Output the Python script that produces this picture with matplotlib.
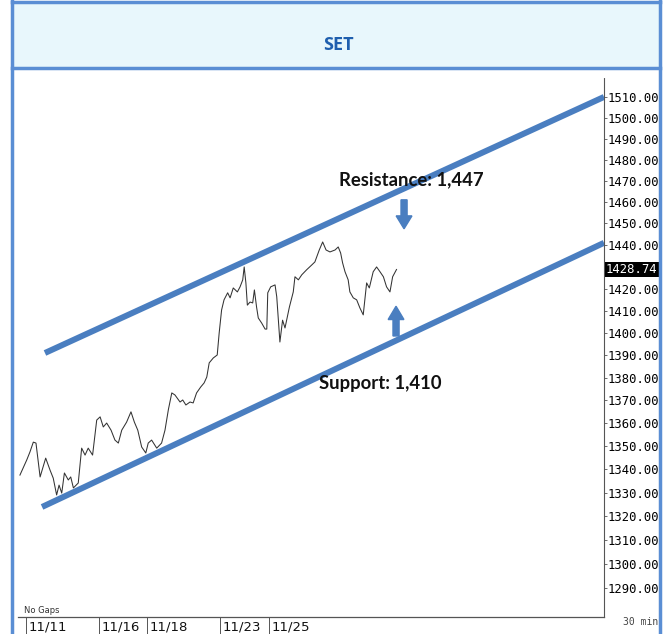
import numpy as np
import matplotlib
matplotlib.use("Agg")
from matplotlib import pyplot as plt
from matplotlib.patches import Rectangle, FancyArrow
from matplotlib.ticker import FixedLocator, NullLocator
import matplotlib.transforms as mtransforms

# position in trading days (0 = 11/11 open) and SET index level
days = [-0.25, 0.03, 0.16, 0.30, 0.41, 0.58, 0.81, 0.99, 1.12, 1.26, 1.36, 1.47,
        1.58, 1.74, 1.84, 1.95, 2.15, 2.29, 2.43, 2.56, 2.74, 2.91, 3.05, 3.18,
        3.32, 3.50, 3.66, 3.80, 3.94, 4.14, 4.32, 4.46, 4.60, 4.76, 4.93, 5.03,
        5.17, 5.38, 5.58, 5.72, 5.86, 6.00, 6.13, 6.34, 6.45, 6.58, 6.75, 6.88,
        7.02, 7.19, 7.33, 7.44, 7.54, 7.71, 7.87, 7.95, 8.05, 8.15, 8.30, 8.40,
        8.53, 8.70, 8.81, 8.92, 8.98, 9.05, 9.11, 9.22, 9.33, 9.40, 9.49, 9.56,
        9.70, 9.84, 9.91, 9.95, 10.07, 10.25, 10.32, 10.45, 10.56, 10.66, 10.84,
        11.00, 11.07, 11.21, 11.35, 11.55, 11.76, 11.89, 12.07, 12.21, 12.35,
        12.51, 12.72, 12.85, 12.95, 13.03, 13.13, 13.26, 13.33, 13.47, 13.61,
        13.74, 13.88, 14.02, 14.13, 14.29, 14.43, 14.57, 14.71, 14.84, 14.98,
        15.09, 15.25]
prices = [1337.6, 1344.1, 1347.5, 1351.8, 1351.4, 1336.8, 1344.9, 1339.7, 1336.3,
          1329.1, 1333.3, 1329.9, 1338.5, 1335.5, 1336.8, 1332.1, 1334.2, 1349.2,
          1346.2, 1349.2, 1346.2, 1361.4, 1362.8, 1358.4, 1360.1, 1357.0, 1352.7,
          1351.4, 1357.0, 1360.5, 1365.0, 1360.5, 1357.0, 1349.7, 1347.1, 1351.4,
          1352.7, 1349.2, 1351.4, 1357.0, 1366.0, 1373.3, 1372.4, 1369.3, 1370.2,
          1368.0, 1369.3, 1368.9, 1373.3, 1375.9, 1377.7, 1380.3, 1386.6, 1388.8,
          1390.1, 1399.9, 1410.3, 1414.9, 1418.1, 1415.8, 1420.3, 1418.5, 1420.8,
          1424.0, 1429.9, 1422.6, 1412.5, 1413.9, 1413.5, 1419.4, 1411.6, 1406.7,
          1404.4, 1401.7, 1401.7, 1418.1, 1420.8, 1421.7, 1416.3, 1395.9, 1405.7,
          1402.2, 1411.6, 1418.5, 1425.4, 1424.0, 1426.3, 1428.6, 1430.8, 1432.2,
          1437.7, 1441.4, 1437.7, 1436.8, 1437.7, 1439.1, 1436.3, 1431.8, 1427.7,
          1424.0, 1418.5, 1415.8, 1414.9, 1411.3, 1408.1, 1422.6, 1420.3, 1427.7,
          1429.9, 1427.7, 1425.4, 1420.8, 1418.5, 1425.4, 1428.74]
last_price = 1428.74

date_pos = [0, 3, 5, 8, 10]
date_labels = ["11/11", "11/16", "11/18", "11/23", "11/25"]
price_ticks = list(range(1290, 1511, 10))

# channel lines (start/end in days and price)
upper_x = [0.78, 23.79]
upper_y = [1391, 1510]
lower_x = [0.66, 23.79]
lower_y = [1324, 1441]

resist_text = "Resistance: 1,447"
support_text = "Support: 1,410"

W, H = 663, 634
fig = plt.figure(figsize=(W / 100, H / 100), dpi=100)

def fx(x):
    return x / W

def fy(y):
    return 1 - y / H

blue = "#5A8ED4"
line_blue = "#4A7EC0"

# header band and frame
fig.add_artist(Rectangle((fx(12), fy(68)), fx(649), 65 / H, transform=fig.transFigure,
                         facecolor="#E8F7FC", edgecolor="none", zorder=0))
for x0, y0, x1, y1 in [(12, 1.5, 660, 1.5), (12, 68, 660, 68), (12, 0, 12, H), (660, 0, 660, H)]:
    fig.add_artist(plt.Line2D([fx(x0), fx(x1)], [fy(y0), fy(y1)], transform=fig.transFigure,
                              color=blue, lw=2.5, zorder=1))
fig.text(fx(338), fy(45), "SET", ha="center", va="center", fontsize=13,
         fontweight="bold", color="#1F5FAE", family="Open Sans")

ax = fig.add_axes([fx(18), fy(617), fx(586), (617 - 78) / H])
ax.set_yscale("log")
ax.set_ylim(1278.1, 1519.2)
ax.set_xlim(-0.33, 23.79)

ax.plot(days, prices, color="#333333", lw=0.75, zorder=3)

ax.plot(upper_x, upper_y, color=line_blue, lw=4.3, solid_capstyle="butt", zorder=4)
ax.plot(lower_x, lower_y, color=line_blue, lw=4.3, solid_capstyle="butt", zorder=4)

# arrows
ax.add_patch(FancyArrow(15.56, 1461, 0, -13.5, width=0.25, head_width=0.65,
                        head_length=6, length_includes_head=True,
                        color=line_blue, zorder=5))
ax.add_patch(FancyArrow(15.23, 1398.6, 0, 13.4, width=0.25, head_width=0.65,
                        head_length=6, length_includes_head=True,
                        color=line_blue, zorder=5))

ax.text(15.84, 1470.6, resist_text, ha="center", va="center", fontsize=13.3,
        fontweight="bold", family="Lato", color="#111111", zorder=6)
ax.text(14.57, 1377.3, support_text, ha="center", va="center", fontsize=13.3,
        fontweight="bold", family="Lato", color="#111111", zorder=6)

# axes styling
for s in ["left", "top"]:
    ax.spines[s].set_visible(False)
ax.spines["bottom"].set_color("#555555")
ax.spines["bottom"].set_linewidth(0.9)
ax.spines["right"].set_color("#555555")
ax.spines["right"].set_linestyle((0, (1, 1)))
ax.spines["right"].set_linewidth(0.8)

# the 1430 label is covered by the last price tag
ax.yaxis.set_major_locator(FixedLocator(price_ticks))
ax.yaxis.set_minor_locator(NullLocator())
ax.set_yticklabels(["" if t == 1430 else "%.2f" % t for t in price_ticks])
ax.yaxis.tick_right()
ax.tick_params(axis="y", which="major", length=2, width=0.6, color="#555555", pad=0.5,
               labelsize=8.8, labelcolor="#000000")
for lab in ax.get_yticklabels():
    lab.set_family("DejaVu Sans Mono")

ax.set_xticks(date_pos)
ax.set_xticklabels([])
ax.tick_params(axis="x", length=13, width=0.7, color="#555555")
trans = mtransforms.blended_transform_factory(ax.transData, ax.transAxes)
for p, lab in zip(date_pos, date_labels):
    ax.text(p + 0.1, -0.006, lab, transform=trans, ha="left", va="top", fontsize=9.5,
            family="DejaVu Sans", color="#111111", clip_on=False)

# last price tag
ytrans = mtransforms.blended_transform_factory(ax.transAxes, ax.transData)
ax.text(1.003, last_price, "%.2f" % last_price, transform=ytrans, ha="left", va="center",
        fontsize=8.8, family="DejaVu Sans Mono", color="white", zorder=7,
        bbox=dict(boxstyle="square,pad=0.1", facecolor="black", edgecolor="none"))

ax.text(0.01, 0.003, "No Gaps", transform=ax.transAxes, ha="left", va="bottom",
        fontsize=6, color="#333333")
fig.text(fx(641), fy(622), "30 min", ha="center", va="center", fontsize=7,
         family="DejaVu Sans Mono", color="#444444")

fig.savefig("out.png", dpi=100)
